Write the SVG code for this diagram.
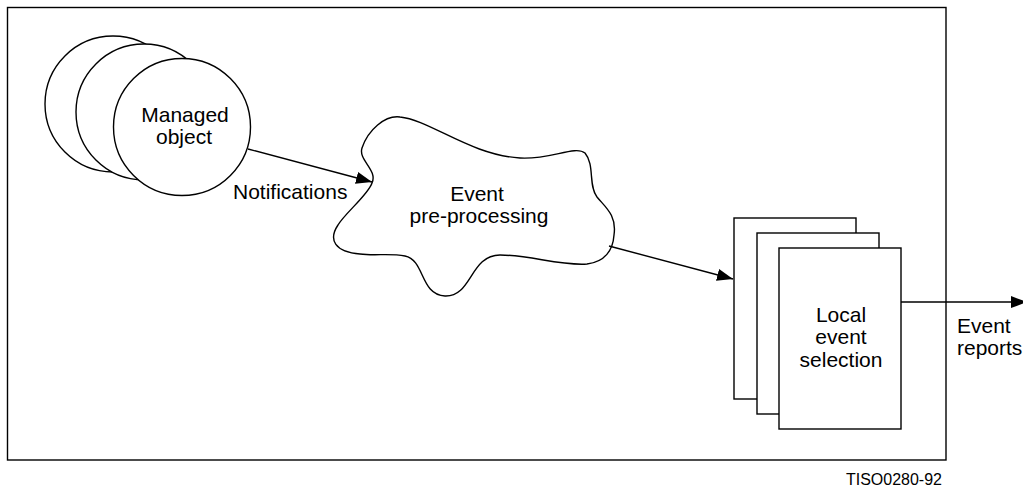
<svg xmlns="http://www.w3.org/2000/svg" width="1023" height="488" viewBox="0 0 1023 488">
<style>
.s{fill:#fff;stroke:#000;stroke-width:1.4}
.t{font-family:"Liberation Sans",Arial,sans-serif;font-size:21px;fill:#000}
.m{text-anchor:middle}
.c{stroke:#000;stroke-width:1.4;fill:none}
</style>
<defs>
<marker id="ah" viewBox="0 0 16 12" refX="16" refY="6" markerWidth="16" markerHeight="12" markerUnits="userSpaceOnUse" orient="auto"><path d="M0,0 L16,6 L0,12 Z" fill="#000"/></marker>
</defs>
<rect id="frame" x="7.5" y="7.5" width="938.5" height="452.5" fill="#fff" stroke="#000" stroke-width="1.4"/>
<g id="managed-object">
<circle class="s" cx="113" cy="104" r="68"/>
<circle class="s" cx="144" cy="112" r="68"/>
<circle class="s" cx="182" cy="127" r="68.5"/>
<text class="t m" x="185" y="122">Managed</text>
<text class="t m" x="184" y="144">object</text>
</g>
<g id="event-preprocessing">
<path class="s" d="M372,183 C378,170 358,160 362,148 C368,130 385,115 400,117 C430,120 470,155 520,158 C550,160 575,145 585,153 C595,165 588,185 597,197 C605,207 617,215 614,235 C613,250 605,262 587,264 C560,266 530,255 500,255 C470,255 472,297 445,296 C420,295 425,260 405,256 C390,253 375,256 360,254 C335,252 328,240 338,225 C345,213 368,195 372,183 Z"/>
<text class="t m" x="477" y="201">Event</text>
<text class="t m" x="479" y="223">pre-processing</text>
</g>
<g id="local-event-selection">
<rect class="s" x="734" y="218" width="122" height="181"/>
<rect class="s" x="757" y="233" width="122" height="181"/>
<rect class="s" x="779" y="248" width="122" height="181"/>
<text class="t m" x="841" y="322">Local</text>
<text class="t m" x="841" y="344">event</text>
<text class="t m" x="841" y="367">selection</text>
</g>
<g id="connectors">
<line class="c" x1="248" y1="149" x2="372" y2="182" marker-end="url(#ah)"/>
<line class="c" x1="609" y1="246" x2="733" y2="279" marker-end="url(#ah)"/>
<line class="c" x1="901" y1="302" x2="1027" y2="302" stroke-width="2.2" marker-end="url(#ah)"/>
</g>
<g id="labels">
<text class="t" x="233" y="199">Notifications</text>
<text class="t" x="957" y="333" font-size="20">Event</text>
<text class="t" x="957" y="355" font-size="20">reports</text>
<text x="942" y="485" text-anchor="end" font-family="Liberation Sans, Arial, sans-serif" font-size="16">TISO0280-92</text>
</g>
</svg>
